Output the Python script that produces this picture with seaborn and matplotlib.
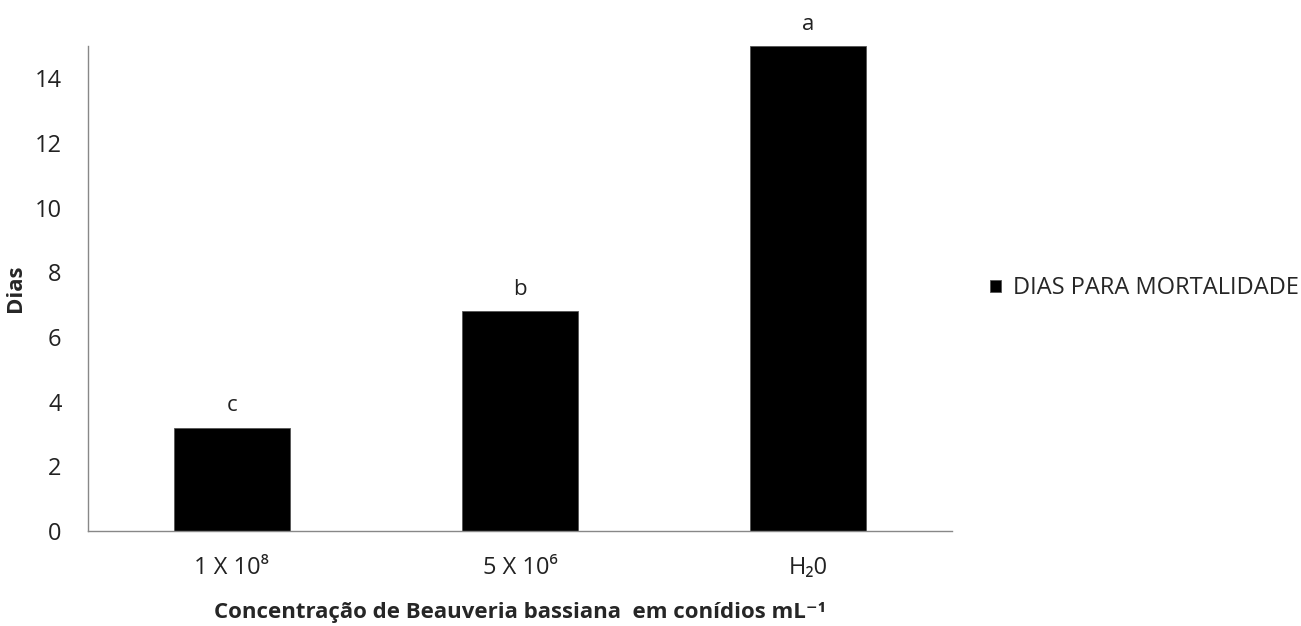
import matplotlib
matplotlib.use('Agg')
import matplotlib.pyplot as plt
import seaborn as sns
import pandas as pd

# Data
concentracoes = ['1 X 10⁸', '5 X 10⁶', 'H₂0']
dias = [3.2, 6.8, 15.0]
letras = ['c', 'b', 'a']
serie = 'DIAS PARA MORTALIDADE'

df = pd.DataFrame({'Concentracao': concentracoes, 'Dias': dias, 'Serie': serie})

sns.set_style('white')
plt.rcParams['font.family'] = ['Open Sans', 'DejaVu Sans']

fig = plt.figure(figsize=(13.01, 6.26), dpi=100)
ax = fig.add_axes([0.0676, 0.1518, 0.6641, 0.7747])

sns.barplot(data=df, x='Concentracao', y='Dias', hue='Serie', palette=['black'],
            width=0.4, ax=ax, edgecolor='#555555', linewidth=0.6)

# letters above bars
for i, (v, l) in enumerate(zip(dias, letras)):
    ax.annotate(l, (i, v), xytext=(0, 8), textcoords='offset points',
                ha='center', va='bottom', fontsize=16, color='#222222')

ax.set_ylim(0, 15)
ax.set_xlim(-0.5, 2.5)
ax.set_yticks(range(0, 15, 2))
ax.set_xticks([-0.5, 0.5, 1.5, 2.5], minor=True)
ax.tick_params(axis='x', which='major', length=0, pad=18, labelsize=17, colors='#222222')
ax.tick_params(axis='x', which='minor', length=7, width=1, color='#888888', direction='out')
ax.tick_params(axis='y', length=6, width=1, color='#888888', direction='out',
               labelsize=17, labelcolor='#222222', pad=13)

for s in ['top', 'right']:
    ax.spines[s].set_visible(False)
for s in ['left', 'bottom']:
    ax.spines[s].set_color('#888888')
    ax.spines[s].set_linewidth(1)

ax.set_ylabel('Dias', fontsize=16, fontweight='bold', labelpad=6)
ax.set_xlabel('Concentração de Beauveria bassiana  em conídios mL⁻¹', fontsize=16,
              fontweight='bold', labelpad=16)

ax.legend(loc='center left', bbox_to_anchor=(1.02, 0.5), frameon=False,
          fontsize=17, handlelength=0.45, handleheight=0.45, handletextpad=0.5)

fig.savefig('out.png', dpi=100)
